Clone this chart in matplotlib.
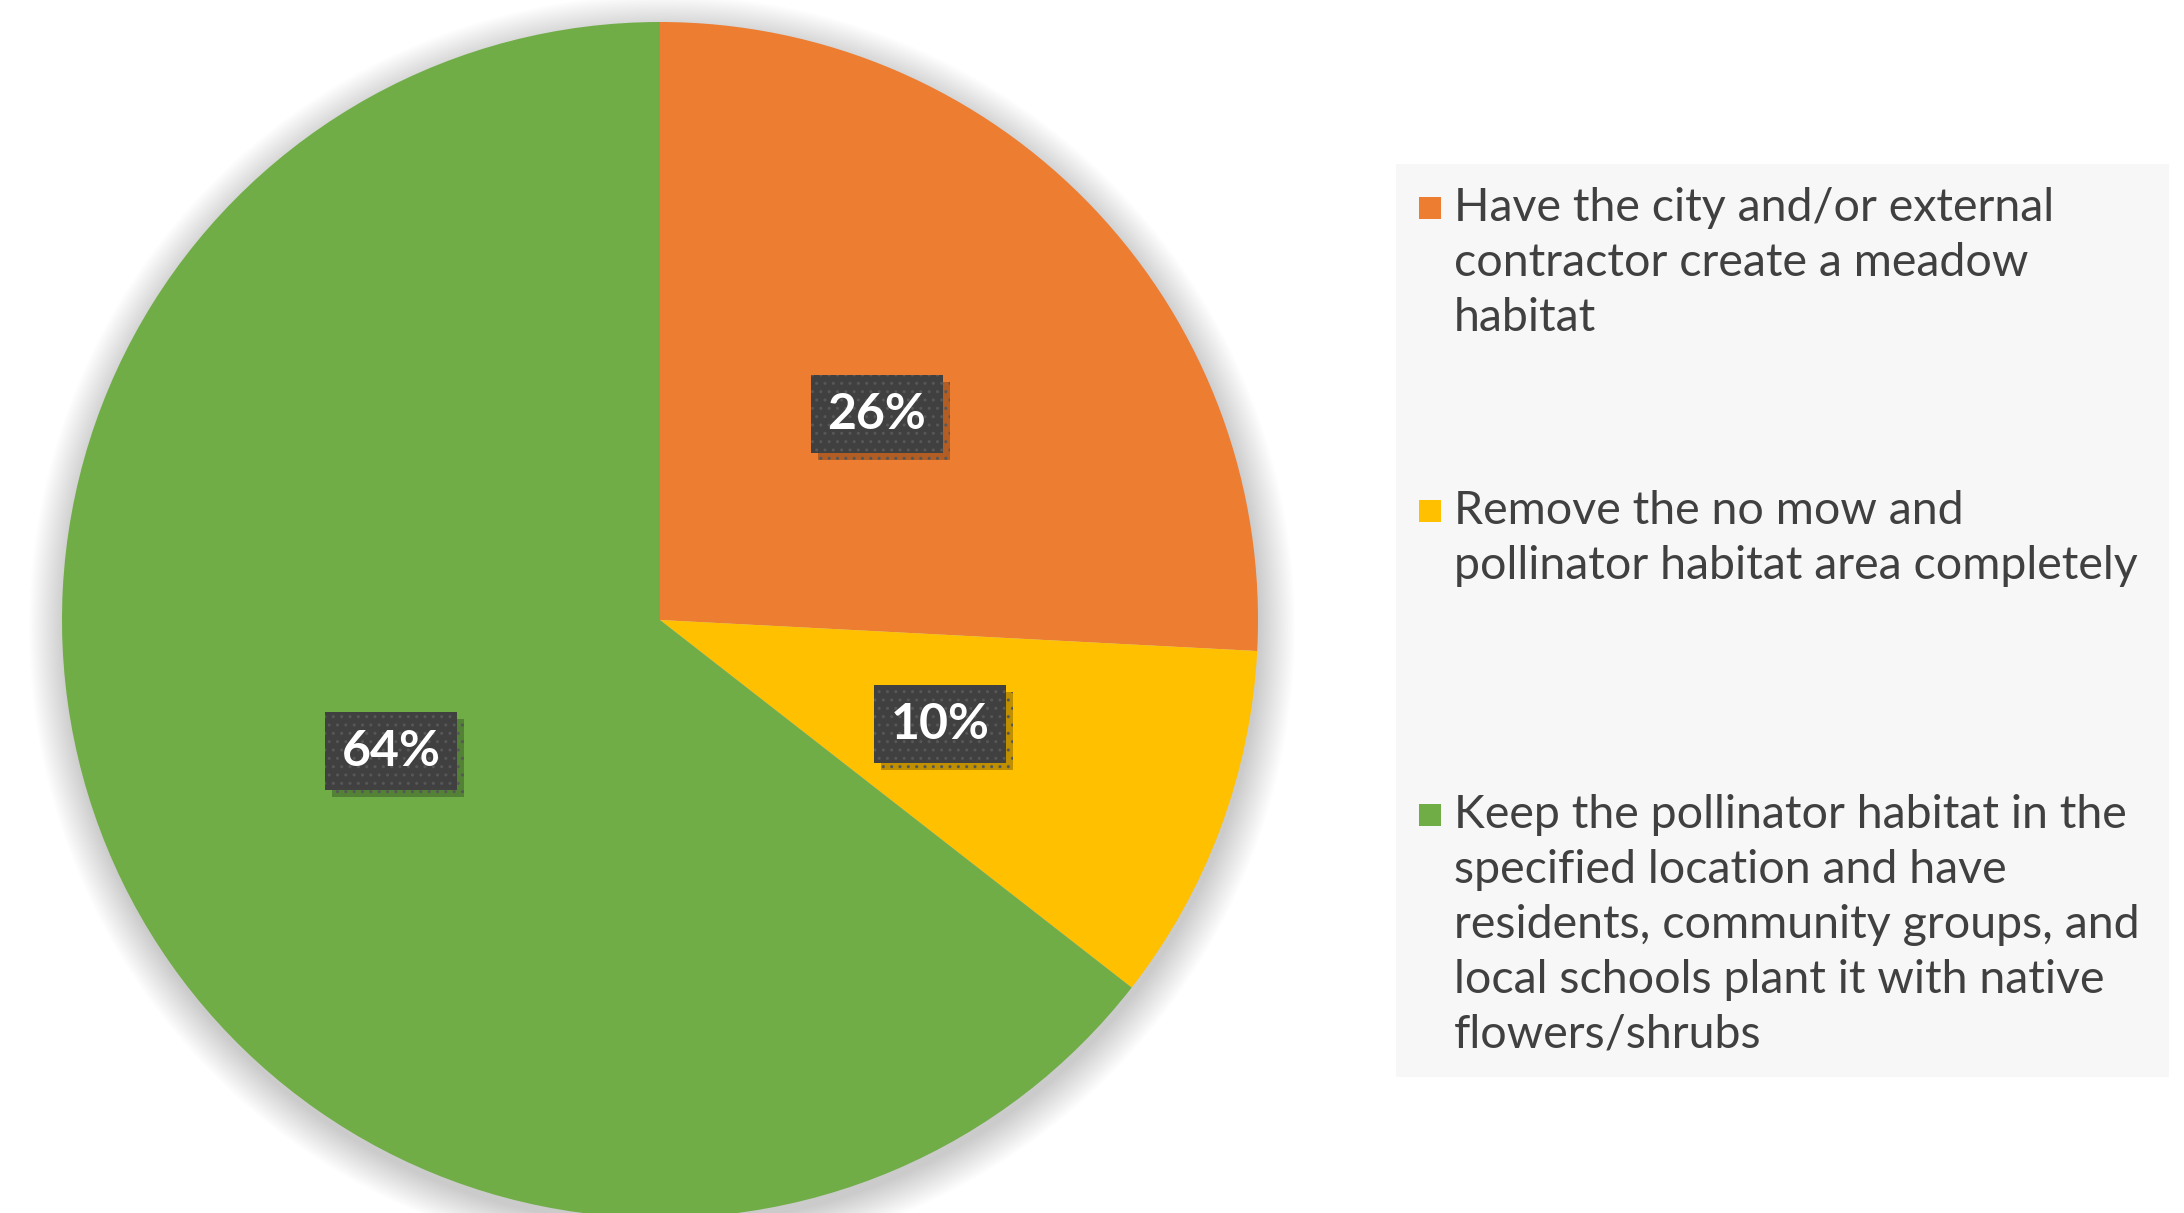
import matplotlib.pyplot as plt
import matplotlib.patheffects as pe
from matplotlib.patches import Circle, Rectangle

# data
labels = [
    "Have the city and/or external\ncontractor create a meadow\nhabitat",
    "Remove the no mow and\npollinator habitat area completely",
    "Keep the pollinator habitat in the\nspecified location and have\nresidents, community groups, and\nlocal schools plant it with native\nflowers/shrubs",
]
shares = [25.8, 9.7, 64.4]
colors = ["#ed7d31", "#ffc000", "#70ad47"]

W, H = 2184, 1213
fig = plt.figure(figsize=(W / 100, H / 100), dpi=100)
ax = fig.add_axes([0, 0, 1, 1])

cx, cy, r = 660, H - 620, 598

# soft shadow behind the pie
for k in range(26):
    ax.add_patch(Circle((cx + 2, cy - 8), r + k * 1.4, color="black", alpha=0.008, lw=0, zorder=0))

wedges, _, autotexts = ax.pie(shares, colors=colors, startangle=90, counterclock=False,
                              center=(cx, cy), radius=r, autopct="%.0f%%", pctdistance=0.5,
                              wedgeprops=dict(linewidth=0))
for w in wedges:
    w.set_zorder(2)

for t in autotexts:
    t.set_fontfamily("Lato")
    t.set_fontweight("bold")
    t.set_fontsize(36)
    t.set_color("white")
    t.set_zorder(5)
    t.set_bbox(dict(boxstyle="square,pad=0.33", facecolor="#404040", edgecolor="#575757",
                    linewidth=0, hatch=".."))
    t.get_bbox_patch().set_path_effects(
        [pe.SimplePatchShadow(offset=(5, -5), shadow_rgbFace="black", alpha=0.25), pe.Normal()])

ax.set_xlim(0, W)
ax.set_ylim(0, H)
ax.set_aspect("equal")
ax.axis("off")

# legend panel
ax.add_patch(Rectangle((1396, H - 1077), 2169 - 1396, 1077 - 164, facecolor="#f7f7f7",
                       edgecolor="none", zorder=1))
first_line = [208, 511, 815]
line_gap = 55
for lab, col, y0 in zip(labels, colors, first_line):
    ax.add_patch(Rectangle((1419, H - y0 - 11), 22, 22, facecolor=col, edgecolor="none", zorder=3))
    for i, line in enumerate(lab.split("\n")):
        ax.text(1454, H - (y0 + i * line_gap), line, ha="left", va="center",
                fontfamily="Lato", fontsize=33.5, color="#404040", zorder=3)

fig.savefig("out.png", dpi=100)
